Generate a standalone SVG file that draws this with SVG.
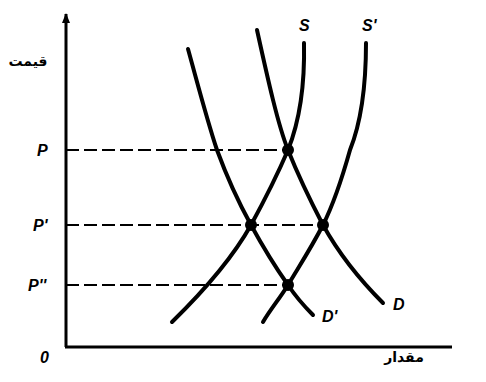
<svg xmlns="http://www.w3.org/2000/svg" width="486" height="382" viewBox="0 0 486 382">
<style>
.axis{stroke:#000;stroke-width:3;fill:none}
.curve{stroke:#000;stroke-width:4;fill:none;stroke-linecap:round}
.dash{stroke:#000;stroke-width:2;stroke-dasharray:13 5;fill:none}
.lbl{font-family:"Liberation Sans",Arial,sans-serif;font-weight:bold;font-style:italic;font-size:16px;fill:#000}
.ar{font-family:"DejaVu Sans",sans-serif;font-weight:bold;font-size:14px;fill:#000}
.dot{fill:#000}
</style>
<defs>
<marker id="arr" markerWidth="10" markerHeight="8" refX="9" refY="4" orient="auto" markerUnits="userSpaceOnUse">
<path d="M0,0 L10,4 L0,8 Z" fill="#000"/>
</marker>
</defs>
<g id="axes">
<line class="axis" x1="66" y1="347" x2="66" y2="14" marker-end="url(#arr)"/>
<line class="axis" x1="65" y1="347" x2="452" y2="347"/>
<text class="ar" x="28" y="66" text-anchor="middle" direction="rtl">قیمت</text>
<text class="ar" x="404" y="362" text-anchor="middle" direction="rtl">مقدار</text>
<text class="lbl" x="40" y="363" font-style="normal" font-size="17">0</text>
</g>
<g id="connectors">
<line class="dash" x1="66" y1="150" x2="288" y2="150"/>
<line class="dash" x1="66" y1="225" x2="323" y2="225"/>
<line class="dash" x1="66" y1="285" x2="288" y2="285"/>
</g>
<g id="labels">
<text class="lbl" x="37" y="156">P</text>
<text class="lbl" x="33" y="231">P'</text>
<text class="lbl" x="28" y="291">P''</text>
</g>
<g id="curve-D">
<path class="curve" d="M257,30 C268,80 278,125 288,150 C298,175 310,200 323,225 C338,252 360,280 383,303"/>
<text class="lbl" x="393" y="310">D</text>
</g>
<g id="curve-D2">
<path class="curve" d="M188,49 C198,85 207,120 217,150 C228,180 240,205 251,225 C263,247 276,268 288,285 C296,297 305,307 313,315"/>
<text class="lbl" x="322" y="322">D'</text>
</g>
<g id="curve-S">
<path class="curve" d="M304,43 C305,90 298,125 288,150 C276,178 263,203 251,225 C237,250 215,280 172,322"/>
<text class="lbl" x="299" y="31">S</text>
</g>
<g id="curve-S2">
<path class="curve" d="M366,43 C366,90 360,125 350,150 C343,175 333,205 323,225 C310,250 298,268 288,285 C280,298 270,310 263,322"/>
<text class="lbl" x="362" y="31">S'</text>
</g>
<g id="points">
<circle class="dot" cx="288" cy="150" r="6"/>
<circle class="dot" cx="251" cy="225" r="6"/>
<circle class="dot" cx="323" cy="225" r="6"/>
<circle class="dot" cx="288" cy="285" r="6"/>
</g>
</svg>
